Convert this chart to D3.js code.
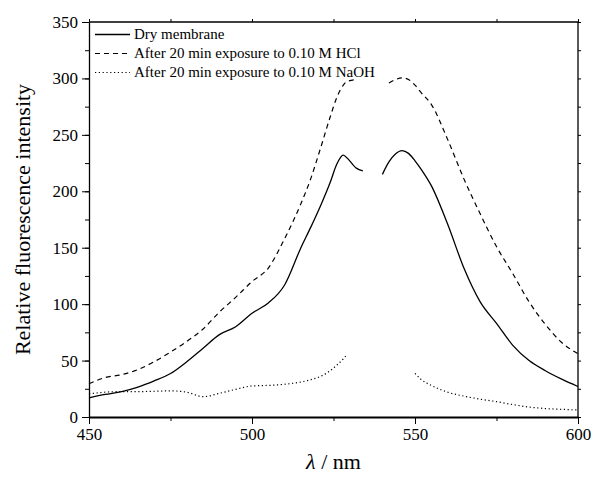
<!DOCTYPE html>
<html>
<head>
<meta charset="utf-8">
<script src="https://cdn.jsdelivr.net/npm/d3@7"></script>
<style>
    body { margin: 0; background: #fff; }
    .axis path, .axis line { stroke: #000; }
</style>
</head>
<body>
<div class="chart"></div>
<script>
// wavelengths (nm), null value = no data (gap around the excitation line)
const wavelengths = [450, 455, 460, 465, 470, 475, 480, 485, 490, 495, 500, 505, 510, 515, 518, 521, 524, 526, 528, 529, 532, 534, 537, 540, 542, 544, 546, 548, 550, 552, 555, 560, 565, 570, 575, 580, 585, 590, 595, 600];
const dryMembrane = [17, 20, 22.5, 26.5, 32, 38.5, 49, 61, 73, 80, 92, 101, 117, 150, 168, 187, 208, 224, 232, 230, 220.5, 218, null, 215, 226, 233, 236, 233.6, 227, 219, 205, 171, 132, 102, 83, 63.5, 50, 41, 33.5, 27];
const afterHCl = [29.5, 35, 37.5, 42, 49, 57.5, 67, 78, 93, 106, 120, 132, 158, 189, 211, 238, 266, 283, 294, 297, 299, null, null, null, 296, 299, 300.5, 299, 294, 287, 277, 246, 211, 180, 151, 127, 102, 82, 66, 56];
const afterNaOH = [20.5, 22, 22.5, 22.5, 22.8, 23.2, 22, 18, 21, 24.5, 27.5, 28, 29, 31, 33, 36, 41, 46, 51.5, 55, null, null, null, null, null, null, null, null, 38.7, 33, 28, 22, 18.5, 15.8, 13.6, 11, 8.8, 7.5, 6.8, 6.2];
const seriesNames = ['Dry membrane', 'After 20 min exposure to 0.10 M HCl', 'After 20 min exposure to 0.10 M NaOH'];
const xTicks = [450, 500, 550, 600];
const yTicks = [0, 50, 100, 150, 200, 250, 300, 350];

const width = 592;
const height = 478;
const margin = { left: 89, right: 14, top: 22, bottom: 61 };
const serif = '"Times New Roman", "Liberation Serif", "DejaVu Serif", serif';

const svg = d3.select('.chart').append('svg')
    .attr('width', width)
    .attr('height', height)
    .attr('viewBox', `0 0 ${width} ${height}`);

const xScale = d3.scaleLinear().domain([450, 600]).range([margin.left, width - margin.right]);
const yScale = d3.scaleLinear().domain([0, 350]).range([height - margin.bottom, margin.top]);

/*      minor ticks (every 25)      */
const xMinor = d3.range(450, 601, 25);
const yMinor = d3.range(0, 351, 25);

svg.append('g').attr('class', 'axis')
    .attr('transform', `translate(0, ${yScale(0)})`)
    .call(d3.axisBottom(xScale).tickValues(xMinor).tickSize(4).tickFormat(''))
    .call(g => g.select('.domain').remove());
svg.append('g').attr('class', 'axis')
    .attr('transform', `translate(${xScale(450)}, 0)`)
    .call(d3.axisLeft(yScale).tickValues(yMinor).tickSize(4).tickFormat(''))
    .call(g => g.select('.domain').remove());
svg.append('g').attr('class', 'axis')
    .attr('transform', `translate(0, ${yScale(350)})`)
    .call(d3.axisTop(xScale).tickValues(xMinor).tickSize(3).tickFormat(''))
    .call(g => g.select('.domain').remove());
svg.append('g').attr('class', 'axis')
    .attr('transform', `translate(${xScale(600)}, 0)`)
    .call(d3.axisRight(yScale).tickValues(yMinor).tickSize(3).tickFormat(''))
    .call(g => g.select('.domain').remove());

/*      major ticks + labels      */
const xAxis = svg.append('g').attr('class', 'axis x-axis')
    .attr('transform', `translate(0, ${yScale(0)})`)
    .call(d3.axisBottom(xScale).tickValues(xTicks).tickSize(7).tickPadding(4).tickSizeOuter(0));
xAxis.attr('font-family', serif);
xAxis.selectAll('text').style('font-family', serif).style('font-size', '17px');
xAxis.select('.domain').attr('stroke-width', 2);

const yAxis = svg.append('g').attr('class', 'axis y-axis')
    .attr('transform', `translate(${xScale(450)}, 0)`)
    .call(d3.axisLeft(yScale).tickValues(yTicks).tickSize(7).tickPadding(4).tickSizeOuter(0));
yAxis.attr('font-family', serif);
yAxis.selectAll('text').style('font-family', serif).style('font-size', '17px');
yAxis.select('.domain').attr('stroke-width', 1.3);

/*      frame top / right      */
svg.append('line')
    .attr('x1', xScale(450)).attr('x2', xScale(600))
    .attr('y1', yScale(350)).attr('y2', yScale(350))
    .attr('stroke', '#000').attr('stroke-width', 1.3);
svg.append('line')
    .attr('x1', xScale(600)).attr('x2', xScale(600))
    .attr('y1', yScale(350)).attr('y2', yScale(0))
    .attr('stroke', '#000').attr('stroke-width', 1.3);

/*      axis titles      */
svg.append('text')
    .attr('transform', `translate(30, ${(yScale(0) + yScale(350)) / 2}) rotate(-90)`)
    .attr('text-anchor', 'middle')
    .style('font-family', serif)
    .style('font-size', '22px')
    .text('Relative fluorescence intensity');

const xTitle = svg.append('text')
    .attr('x', (xScale(450) + xScale(600)) / 2)
    .attr('y', 469)
    .attr('text-anchor', 'middle')
    .style('font-family', serif)
    .style('font-size', '22px');
xTitle.append('tspan').style('font-style', 'italic').text('λ');
xTitle.append('tspan').text(' / nm');

/*      curves      */
const series = [
    { name: seriesNames[0], values: dryMembrane, dash: null, sw: 1.3 },
    { name: seriesNames[1], values: afterHCl, dash: '5,4', sw: 1.2 },
    { name: seriesNames[2], values: afterNaOH, dash: '1.2,2.6', sw: 1.2 }
];

const line = d3.line()
    .defined(d => d.v != null)
    .x(d => xScale(d.w))
    .y(d => yScale(d.v))
    .curve(d3.curveMonotoneX);

svg.append('g').selectAll('path')
    .data(series)
    .enter()
    .append('path')
    .attr('fill', 'none')
    .attr('stroke', '#000')
    .attr('stroke-width', d => d.sw)
    .attr('stroke-dasharray', d => d.dash)
    .attr('d', d => line(wavelengths.map((w, i) => ({ w: w, v: d.values[i] }))));

/*      legend      */
const legend = svg.append('g').selectAll('g')
    .data(series)
    .enter()
    .append('g')
    .attr('transform', (d, i) => `translate(95, ${34.5 + i * 19})`);
legend.append('line')
    .attr('x1', 0).attr('x2', 35)
    .attr('stroke', '#000')
    .attr('stroke-width', d => d.sw)
    .attr('stroke-dasharray', d => d.dash);
legend.append('text')
    .attr('x', 39)
    .attr('dy', '0.33em')
    .style('font-family', serif)
    .style('font-size', '15px')
    .text(d => d.name);
</script>
</body>
</html>
